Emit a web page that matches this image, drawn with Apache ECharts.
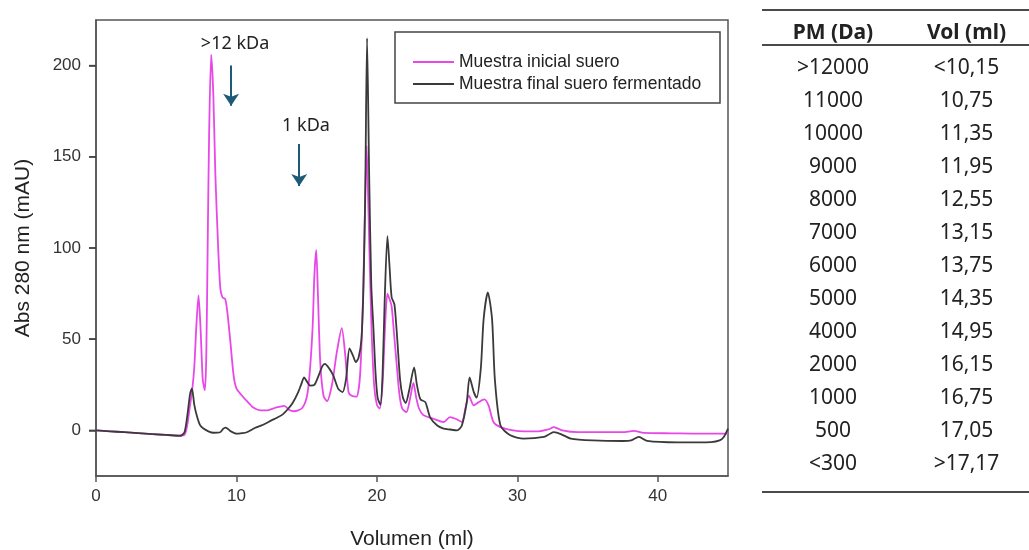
<!DOCTYPE html>
<html>
<head>
<meta charset="utf-8">
<script src="https://cdn.jsdelivr.net/npm/echarts@6/dist/echarts.min.js"></script>
<style>
  html, body { margin: 0; padding: 0; background: #fff; }
  #wrap { position: relative; width: 1029px; height: 550px; overflow: hidden; }
  #chart { position: absolute; left: 0; top: 0; width: 1029px; height: 550px; }
  #tabla { position: absolute; left: 762px; top: 0; width: 267px; height: 550px;
           font-family: "Noto Sans", sans-serif; font-size: 21px; color: #222; }
  .rule { position: absolute; left: 0; width: 267px; height: 2px; background: #4a4a4a; }
  .cell { position: absolute; height: 30px; line-height: 30px; text-align: center; white-space: nowrap; }
  .c1 { left: 0; width: 142px; }
  .c2 { left: 142px; width: 125px; }
  .head { font-weight: 700; }
</style>
</head>
<body>
<div id="wrap">
  <div id="chart"></div>
  <div id="tabla"></div>
</div>
<script>
// cromatograma: [volumen (ml), absorbancia (mAU)]
const inicialSuero = [
  [0, 0], [1, -0.5], [2, -1], [3, -1.5], [4, -2], [5, -2.5], [6, -2.8], [6.3, -2.5],
  [6.5, 3], [6.7, 14], [6.85, 22], [7.0, 35], [7.15, 58], [7.3, 74], [7.45, 55],
  [7.6, 28], [7.75, 22], [7.85, 40], [7.95, 100], [8.05, 160], [8.2, 206], [8.35, 185],
  [8.5, 140], [8.7, 100], [8.85, 78], [9.0, 73], [9.2, 72], [9.35, 65], [9.55, 50],
  [9.8, 30], [10.0, 23], [10.4, 19], [10.75, 16], [11.2, 12.5], [11.7, 11], [12.2, 11],
  [12.8, 12.5], [13.4, 13.5], [13.8, 11], [14.1, 10.5], [14.65, 12], [15.0, 18],
  [15.2, 30], [15.42, 56], [15.55, 85], [15.68, 99], [15.8, 75], [15.97, 37], [16.2, 19],
  [16.45, 16], [16.8, 25], [17.15, 43], [17.5, 56], [17.75, 41], [17.98, 21], [18.2, 19],
  [18.55, 18.5], [18.8, 30], [19.0, 70], [19.15, 120], [19.27, 156], [19.4, 120],
  [19.6, 60], [19.8, 25], [20.0, 14], [20.2, 12], [20.4, 25], [20.6, 60], [20.75, 75],
  [20.9, 72], [21.05, 68], [21.2, 55], [21.4, 37], [21.6, 20], [21.8, 12], [22.1, 10],
  [22.35, 17], [22.6, 26], [22.8, 18], [23.0, 12], [23.3, 8.5], [24.0, 6.5], [24.75, 4.6],
  [25.2, 7.3], [25.6, 6.4], [26.05, 4.6], [26.3, 12], [26.55, 19], [26.9, 13.7],
  [27.25, 15.5], [27.65, 17], [27.95, 13.7], [28.3, 4.6], [28.8, 1.8], [29.7, 0],
  [30.5, -0.5], [31.5, -0.5], [32.2, 0.5], [32.6, 1.8], [33.2, 0], [34.3, -1], [36, -1],
  [37.5, -1], [38.3, -0.3], [39, -1.4], [41, -1.6], [43, -1.8], [45, -1.8]
];
const finalFermentado = [
  [0, 0], [1, -0.5], [2, -1], [3, -1.5], [4, -2], [5, -2.5], [6, -3], [6.3, -1],
  [6.5, 8], [6.7, 20], [6.83, 23], [7.0, 14], [7.18, 8], [7.4, 3], [7.65, 1], [8.0, -0.5],
  [8.36, -1.3], [8.84, -1], [9.05, 0.8], [9.2, 1.5], [9.4, 0.8], [9.6, -0.5], [10.0, -1.8],
  [10.4, -1.5], [10.74, -1], [11.3, 1.3], [11.9, 3.1], [12.5, 5.5], [12.85, 6.8],
  [13.3, 8.8], [13.7, 12], [14.0, 15], [14.4, 21], [14.6, 25], [14.82, 29], [15.0, 27],
  [15.25, 24.6], [15.55, 25], [15.85, 30], [16.1, 35], [16.3, 36.5], [16.6, 34],
  [16.9, 30], [17.25, 22.8], [17.55, 21], [17.8, 28], [18.05, 45], [18.3, 41],
  [18.5, 37.4], [18.7, 40], [18.9, 50], [19.05, 80], [19.17, 130], [19.3, 215],
  [19.45, 140], [19.6, 80], [19.76, 55], [19.9, 32], [20.05, 18], [20.25, 14], [20.4, 30],
  [20.55, 70], [20.75, 106.5], [20.9, 90], [21.05, 73], [21.25, 69], [21.45, 50],
  [21.65, 28], [21.85, 18], [22.05, 15], [22.3, 22], [22.65, 34.5], [22.85, 25],
  [23.1, 17], [23.45, 15.5], [23.8, 7], [24.3, 2.7], [24.75, 1], [25.2, 0.5], [25.7, 0],
  [26.05, 2.7], [26.4, 15.5], [26.6, 29], [26.9, 21], [27.1, 18], [27.4, 34], [27.6, 61],
  [27.9, 75.7], [28.2, 61], [28.4, 28], [28.8, 2.7], [29.5, -2.7], [30.45, -4.5],
  [31.9, -3.6], [32.3, -2], [32.6, -1], [33.1, -2], [33.8, -4.5], [35.4, -5.5],
  [37.5, -5.8], [38.1, -5.5], [38.65, -3.6], [39.25, -5.8], [41.4, -6.6], [43.8, -6.4],
  [44.4, -5.5], [44.7, -3.6], [45, 1]
];

const volTicks = [0, 10, 20, 30, 40];
const absTicks = [0, 50, 100, 150, 200];

// flechas de referencia de peso molecular: [x, y inicio, y fin]
const flechas = [[9.62, 200, 178], [14.47, 157, 134]];
const etiquetas = [['>12 kDa', 9.9, 212], ['1 kDa', 14.95, 167]];

// tabla de calibración
const pmDa = ['>12000', '11000', '10000', '9000', '8000', '7000', '6000', '5000', '4000', '2000', '1000', '500', '<300'];
const volMl = ['<10,15', '10,75', '11,35', '11,95', '12,55', '13,15', '13,75', '14,35', '14,95', '16,15', '16,75', '17,05', '>17,17'];

// tabla en html
const tabla = document.getElementById('tabla');
let html = '';
html += '<div class="rule" style="top:9px"></div>';
html += '<div class="cell c1 head" style="top:16px">PM (Da)</div>';
html += '<div class="cell c2 head" style="top:16px">Vol (ml)</div>';
html += '<div class="rule" style="top:44px"></div>';
for (let i = 0; i < pmDa.length; i++) {
  const t = 51 + i * 33;
  html += '<div class="cell c1" style="top:' + t + 'px">' + pmDa[i].replace('<', '&lt;').replace('>', '&gt;') + '</div>';
  html += '<div class="cell c2" style="top:' + t + 'px">' + volMl[i].replace('<', '&lt;').replace('>', '&gt;') + '</div>';
}
html += '<div class="rule" style="top:491px"></div>';
tabla.innerHTML = html;

const myChart = echarts.init(document.getElementById('chart'));
const fuente = 'Liberation Sans, Arial, sans-serif';
const axisTxt = { color: '#333', fontSize: 17, fontFamily: fuente };

let option = {
  animation: false,
  grid: {
    left: 96, right: 301, top: 20, bottom: 74,
    outerBoundsMode: 'none',
    containLabel: false,
    show: true, borderColor: '#555', borderWidth: 1.5, backgroundColor: 'transparent'
  },
  legend: {
    orient: 'vertical',
    left: 408, top: 46,
    icon: 'rect',
    itemWidth: 41, itemHeight: 2, itemGap: 0,
    textStyle: { fontSize: 17.5, color: '#222', fontFamily: fuente, lineHeight: 22 },
    data: ['Muestra inicial suero', 'Muestra final suero fermentado']
  },
  graphic: [{
    type: 'rect',
    shape: { x: 395, y: 32, width: 325, height: 71 },
    style: { fill: 'transparent', stroke: '#444', lineWidth: 1.5 },
    z: 100
  }],
  xAxis: {
    type: 'value', min: 0, max: 45,
    name: 'Volumen (ml)', nameLocation: 'middle', nameGap: 53,
    nameTextStyle: { fontSize: 21, color: '#222', fontFamily: fuente },
    axisLine: { show: true, onZero: false, lineStyle: { color: '#555', width: 1.5 } },
    axisTick: { show: true, length: 6, customValues: volTicks, lineStyle: { color: '#555', width: 1.5 } },
    axisLabel: Object.assign({ customValues: volTicks, margin: 12 }, axisTxt),
    splitLine: { show: false }
  },
  yAxis: {
    type: 'value', min: -25, max: 225,
    name: 'Abs 280 nm (mAU)', nameLocation: 'middle', nameGap: 62, nameRotate: 90,
    nameTextStyle: { fontSize: 21, color: '#222', fontFamily: fuente },
    axisLine: { show: true, onZero: false, lineStyle: { color: '#555', width: 1.5 } },
    axisTick: { show: true, inside: false, length: 7, customValues: absTicks, lineStyle: { color: '#444', width: 1.5 } },
    axisLabel: Object.assign({ customValues: absTicks, margin: 15 }, axisTxt),
    splitLine: { show: false }
  },
  series: [
    {
      name: 'Muestra inicial suero',
      type: 'line',
      data: inicialSuero,
      symbol: 'none',
      smooth: 0.25,
      lineStyle: { color: '#e848e8', width: 1.8 },
      itemStyle: { color: '#e848e8' },
      markLine: {
        silent: true,
        symbol: ['none', 'arrow'],
        symbolSize: 12,
        label: { show: false },
        lineStyle: { color: '#1d5a78', width: 2, type: 'solid' },
        data: flechas.map(f => [{ coord: [f[0], f[1]] }, { coord: [f[0], f[2]] }])
      },
      markPoint: {
        silent: true,
        symbol: 'circle', symbolSize: 0,
        label: {
          show: true, color: '#222', fontSize: 18,
          fontFamily: 'Noto Sans, sans-serif',
          formatter: p => p.name
        },
        data: etiquetas.map(e => ({ name: e[0], coord: [e[1], e[2]] }))
      }
    },
    {
      name: 'Muestra final suero fermentado',
      type: 'line',
      data: finalFermentado,
      symbol: 'none',
      smooth: 0.25,
      lineStyle: { color: '#3a3a3a', width: 1.8 },
      itemStyle: { color: '#3a3a3a' }
    },
    {
      // marcas del eje y, por la escala del eje
      type: 'custom',
      silent: true,
      clip: false,
      data: absTicks.map(v => [0, v]),
      renderItem: function (params, api) {
        const p = api.coord([0, api.value(1)]);
        return {
          type: 'line',
          shape: { x1: p[0] - 7, y1: p[1], x2: p[0], y2: p[1] },
          style: { stroke: '#444', lineWidth: 1.5 }
        };
      }
    }
  ]
};
myChart.setOption(option);
</script>
</body>
</html>
